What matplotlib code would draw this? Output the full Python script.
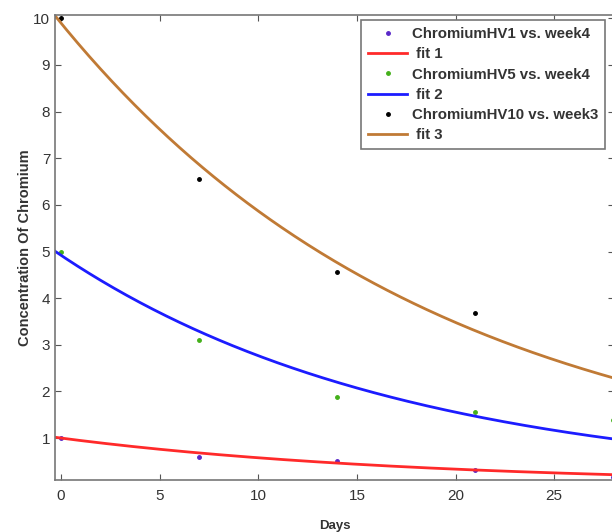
import numpy as np
import matplotlib.pyplot as plt

plt.rcParams['font.family'] = ['Liberation Sans', 'DejaVu Sans']

# measured chromium concentrations
days_w4 = [0, 7, 14, 21, 28]
days_w3 = [0, 7, 14, 21]
hv1 = [1.0, 0.59, 0.51, 0.31, 0.16]
hv5 = [5.0, 3.1, 1.88, 1.56, 1.39]
hv10 = [10.0, 6.55, 4.56, 3.68]

# exponential fits a*exp(-b*t)
fit1 = (1.0, 0.055)
fit2 = (4.92, 0.0576)
fit3 = (9.9, 0.0523)

fig = plt.figure(figsize=(6.12, 5.32), dpi=100)
ax = fig.add_axes([0.0899, 0.0977, 0.914, 0.874])

t = np.linspace(-0.3, 28.3, 300)

ax.plot(days_w4, hv1, '.', color='#5a28c8', ms=5, label='ChromiumHV1 vs. week4')
ax.plot(t, fit1[0] * np.exp(-fit1[1] * t), color='#ff2a2a', lw=2, label=' fit 1')
ax.plot(days_w4, hv5, '.', color='#44b01a', ms=5, label='ChromiumHV5 vs. week4')
ax.plot(t, fit2[0] * np.exp(-fit2[1] * t), color='#1c1cff', lw=2, label=' fit 2')
ax.plot(days_w3, hv10, '.', color='black', ms=5, label='ChromiumHV10 vs. week3')
ax.plot(t, fit3[0] * np.exp(-fit3[1] * t), color='#c07a35', lw=2, label=' fit 3')

ax.set_xlim(-0.3, 28.05)
ax.set_ylim(0.1, 10.07)
ax.set_xticks([0, 5, 10, 15, 20, 25])
ax.set_yticks(range(1, 11))

ax.tick_params(direction='in', top=True, right=True, labelsize=11,
               colors='#555555', labelcolor='#333333', length=4)
ax.tick_params(axis='x', pad=6.5)
for s in ax.spines.values():
    s.set_color('#777777')
    s.set_linewidth(1.2)

ax.set_xlabel('Days', fontsize=9.5, fontweight='bold', color='#333333', labelpad=12)
ax.set_ylabel('Concentration Of Chromium', fontsize=10.5, fontweight='bold',
              color='#333333', labelpad=1)

leg = ax.legend(loc='upper right', bbox_to_anchor=(0.984, 0.989),
                borderaxespad=0, prop={'size': 10.8, 'weight': 'bold'},
                fancybox=False, handlelength=2.6, handletextpad=0.35,
                labelspacing=0.42, borderpad=0.45, framealpha=1)
leg.get_frame().set_edgecolor('#777777')
leg.get_frame().set_linewidth(1.2)
for txt in leg.get_texts():
    txt.set_color('#333333')

fig.savefig('out.png', dpi=100)
